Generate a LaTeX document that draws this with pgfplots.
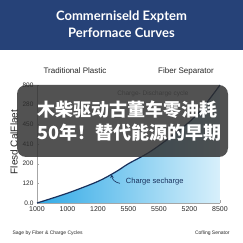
\documentclass[border=0pt]{standalone}
\usepackage{fontspec}
\setmainfont{Liberation Sans}
\newfontfamily\titlefont{Lato}
\newfontfamily\cjk{Noto Sans CJK SC}
\usepackage{pgfplots}
\pgfplotsset{compat=1.18}
\definecolor{titleblue}{RGB}{38,66,120}
\definecolor{curveblue}{RGB}{24,48,92}
\definecolor{fillL}{RGB}{50,170,230}
\definecolor{fillR}{RGB}{216,240,251}
\definecolor{txt}{RGB}{40,40,40}
\begin{document}
\begin{tikzpicture}[x=1bp,y=1bp]
\path[use as bounding box] (0,0) rectangle (243,243);
\fill[white] (0,0) rectangle (243,243);
\fill[titleblue] (0,193) rectangle (243,243);
\node[white, font=\titlefont\bfseries\fontsize{13bp}{14bp}\selectfont] at (121.5,226) {Commerniseld Exptem};
\node[white, font=\titlefont\bfseries\fontsize{13bp}{14bp}\selectfont] at (121.5,210) {Perfornace Curves};
\node[txt, font=\fontsize{8bp}{9bp}\selectfont] at (75,172) {Traditional Plastic};
\node[txt, font=\fontsize{8bp}{9bp}\selectfont] at (186,172) {Fiber Separator};
\node[txt, rotate=90, font=\fontsize{10bp}{11bp}\selectfont] at (14,101) {Flesd CalFlaet};
\begin{axis}[
  at={(37bp,40bp)}, anchor=south west, scale only axis,
  width=183bp, height=118bp,
  xmin=0, xmax=6, ymin=0, ymax=6,
  axis lines=left,
  axis line style={-, gray!70},
  tick align=inside,
  major tick length=2.5bp,
  tick style={gray!70},
  xtick={0,...,6}, xticklabels={1000,1000,1200,5500,5500,5200,8500},
  ytick={0,...,6}, yticklabels={0.0,120,200,410,450,280,800},
  xticklabel style={font=\fontsize{7bp}{8bp}\selectfont, text=txt},
  yticklabel style={font=\fontsize{6.5bp}{7bp}\selectfont, text=txt},
  clip=false,
]
\addplot[draw=none, left color=fillL, right color=fillR, smooth] coordinates {
(0,0) (1,0.5) (2,1.1) (2.6,1.6) (3,2.0) (3.7,2.6) (4.5,3.5) (5.25,4.5) (6,6.0)} \closedcycle;
\addplot[draw=curveblue, line width=1.2bp, smooth] coordinates {
(0,0) (1,0.5) (2,1.1) (2.6,1.6) (3,2.0) (3.7,2.6) (4.5,3.5) (5.25,4.5) (6,6.0)};
\node[anchor=west, text=curveblue, font=\fontsize{7.5bp}{8bp}\selectfont] at (axis cs:2.8,1.1) {Charge secharge};
\draw[->, curveblue, line width=0.6bp, >=stealth] (axis cs:2.72,1.0) to[bend left=40] (axis cs:2.45,1.45);
\node[text=gray, font=\fontsize{6.5bp}{7bp}\selectfont] at (axis cs:3.8,5.55) {Charge- Discharge cycle};
\end{axis}
\node[anchor=west, txt, font=\fontsize{5bp}{6bp}\selectfont] at (9,10) {Sage by Fiber \& Charge Cycles};
\node[anchor=east, txt, font=\fontsize{5bp}{6bp}\selectfont] at (233,10) {Cofling Senator};
\fill[fill={rgb,255:red,45;green,45;blue,45}, opacity=0.82, rounded corners=9bp] (17,86) rectangle (228,158);
\node[anchor=west, inner sep=0pt, white, font=\cjk\bfseries\fontsize{18bp}{20bp}\selectfont] at (37,133) {木柴驱动古董车零油耗};
\node[anchor=west, inner sep=0pt, white, font=\cjk\bfseries\fontsize{18bp}{20bp}\selectfont] at (37,110) {50年！替代能源的早期};
\end{tikzpicture}
\end{document}
